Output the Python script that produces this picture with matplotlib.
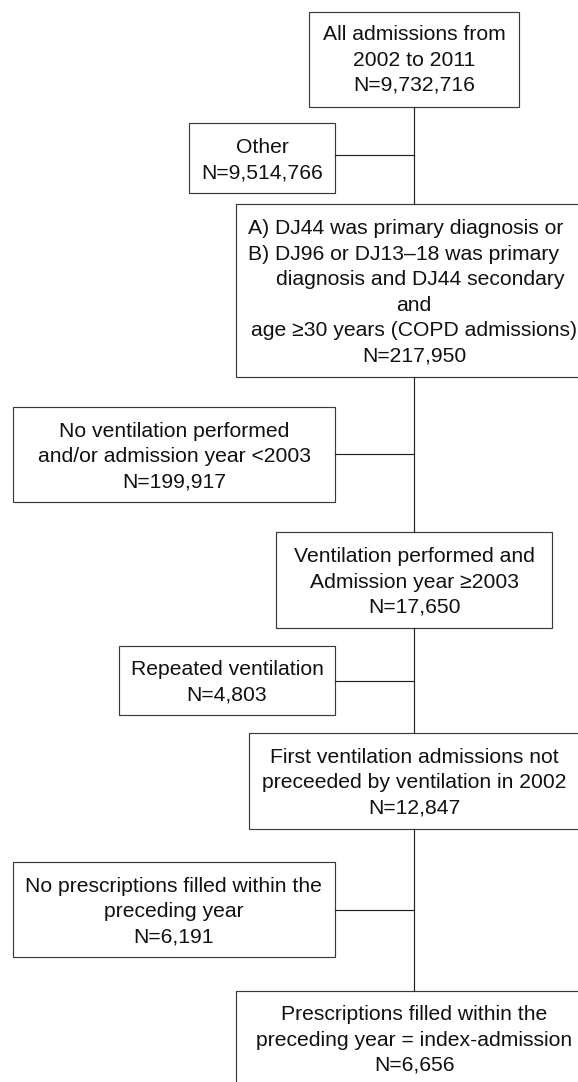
import matplotlib
matplotlib.use("Agg")
import matplotlib.pyplot as plt
from matplotlib.patches import Rectangle

# -----------------------------
# Data
# -----------------------------
main_labels = [
    ["All admissions from", "2002 to 2011"],
    ["A) DJ44 was primary diagnosis or",
     "B) DJ96 or DJ13\u201318 was primary",
     "diagnosis and DJ44 secondary",
     "and",
     "age \u226530 years (COPD admissions)"],
    ["Ventilation performed and", "Admission year \u22652003"],
    ["First ventilation admissions not", "preceeded by ventilation in 2002"],
    ["Prescriptions filled within the", "preceding year = index-admission"],
]
main_counts = [9732716, 217950, 17650, 12847, 6656]

excl_labels = [
    ["Other"],
    ["No ventilation performed", "and/or admission year <2003"],
    ["Repeated ventilation"],
    ["No prescriptions filled within the", "preceding year"],
]
excl_counts = [9514766, 199917, 4803, 6191]

# -----------------------------
# Layout (pixels)
# -----------------------------
W, H = 578, 1082
trunk_x = 414
# main boxes: left, top, right, bottom
main_boxes = [
    (309, 12, 519, 107),
    (236, 204, 600, 377),
    (276, 532, 552, 628),
    (249, 733, 600, 829),
    (236, 991, 600, 1200),
]
main_text_y = [58, 290.5, 580, 781, 1038]
# box 2 line x positions / alignment
box2_align = [(248, "left"), (248, "left"), (276, "left"),
              (trunk_x, "center"), (trunk_x, "center"), (trunk_x, "center")]

excl_boxes = [
    (189, 123, 335, 193),
    (13, 407, 335, 502),
    (119, 646, 335, 715),
    (12.5, 862, 335, 957),
]
excl_link_y = [155, 454, 681, 910]

line_gap = 25.4
fs = 15.2
edge = "#3a3a3a"
lw = 0.85
font = ["Liberation Sans", "DejaVu Sans"]

fig = plt.figure(figsize=(W / 100, H / 100), dpi=100)
ax = fig.add_axes([0, 0, 1, 1])
ax.set_xlim(0, W)
ax.set_ylim(H, 0)
ax.axis("off")


def draw_box(box):
    l, t, r, b = box
    ax.add_patch(Rectangle((l, t), r - l, b - t, fill=False,
                           edgecolor=edge, linewidth=lw))


def draw_lines(lines, xc, yc, aligns=None):
    n = len(lines)
    for i, s in enumerate(lines):
        y = yc + (i - (n - 1) / 2) * line_gap + 7.5
        x, ha = (xc, "center") if aligns is None else aligns[i]
        ax.text(x, y, s, ha=ha, va="baseline", fontsize=fs,
                family=font, color="#111111")


for i, (lab, n, box) in enumerate(zip(main_labels, main_counts, main_boxes)):
    draw_box(box)
    lines = lab + [f"N={n:,}"]
    draw_lines(lines, trunk_x, main_text_y[i],
               box2_align if i == 1 else None)

for lab, n, box, ly in zip(excl_labels, excl_counts, excl_boxes, excl_link_y):
    draw_box(box)
    l, t, r, b = box
    lines = lab + [f"N={n:,}"]
    draw_lines(lines, (l + r) / 2, (t + b) / 2)
    ax.plot([r, trunk_x], [ly, ly], color="#222222", lw=lw)

# trunk segments between main boxes
for upper, lower in zip(main_boxes[:-1], main_boxes[1:]):
    ax.plot([trunk_x, trunk_x], [upper[3], lower[1]],
            color="#222222", lw=lw)

fig.savefig("out.png", dpi=100)
